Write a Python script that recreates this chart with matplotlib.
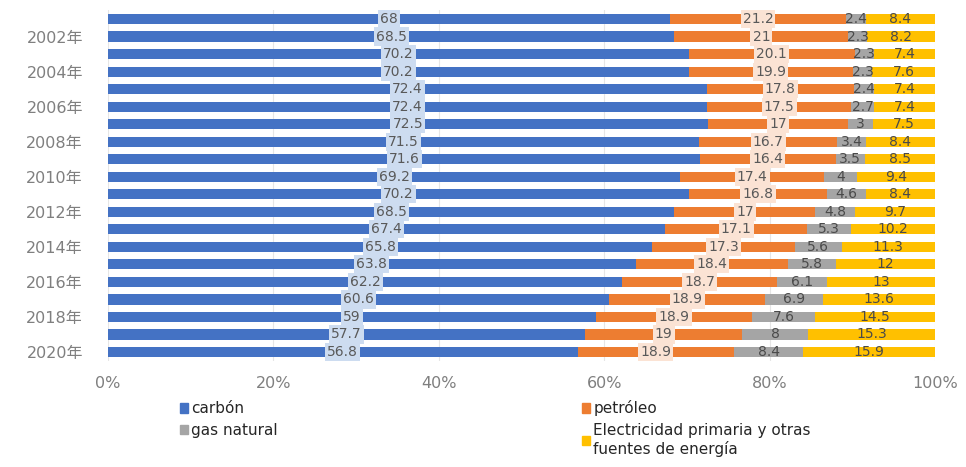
import numpy as np
import matplotlib.pyplot as plt
from matplotlib.patches import Patch

years = list(range(2001, 2021))
carbon = [68, 68.5, 70.2, 70.2, 72.4, 72.4, 72.5, 71.5, 71.6, 69.2,
          70.2, 68.5, 67.4, 65.8, 63.8, 62.2, 60.6, 59, 57.7, 56.8]
petroleo = [21.2, 21, 20.1, 19.9, 17.8, 17.5, 17, 16.7, 16.4, 17.4,
            16.8, 17, 17.1, 17.3, 18.4, 18.7, 18.9, 18.9, 19, 18.9]
gas = [2.4, 2.3, 2.3, 2.3, 2.4, 2.7, 3, 3.4, 3.5, 4,
       4.6, 4.8, 5.3, 5.6, 5.8, 6.1, 6.9, 7.6, 8, 8.4]
electricidad = [8.4, 8.2, 7.4, 7.6, 7.4, 7.4, 7.5, 8.4, 8.5, 9.4,
                8.4, 9.7, 10.2, 11.3, 12, 13, 13.6, 14.5, 15.3, 15.9]

series = [
    ("carbón", carbon, "#4472C4", "#cddcf0"),
    ("petróleo", petroleo, "#ED7D31", "#fbe3d4"),
    ("gas natural", gas, "#A5A5A5", None),
    ("Electricidad primaria y otras\nfuentes de energía", electricidad, "#FFC000", None),
]

data = np.array([s[1] for s in series], dtype=float)
pct = data / data.sum(axis=0) * 100

fig = plt.figure(figsize=(9.66, 4.67), dpi=100)
ax = fig.add_axes([0.1118, 0.2275, 0.8561, 0.7505])

y = np.arange(len(years))
left = np.zeros(len(years))
for (name, vals, color, boxc), p in zip(series, pct):
    ax.barh(y, p, left=left, height=0.58, color=color, zorder=2)
    for yi, (l, w, v) in enumerate(zip(left, p, vals)):
        bbox = None
        if boxc is not None:
            bbox = dict(boxstyle="square,pad=0.15", fc=boxc, ec="none")
        ax.text(l + w / 2, yi, f"{v:g}", ha="center", va="center",
                fontsize=10, color="#595959" if boxc else "#4a4a4a",
                bbox=bbox, zorder=3)
    left += p

ax.set_xlim(0, 100)
ax.set_ylim(len(years) - 0.5, -0.5)
ax.set_xticks(np.arange(0, 101, 20))
ax.set_xticklabels([f"{t}%" for t in range(0, 101, 20)])
ax.set_yticks(y)
ax.set_yticklabels([f"{yr}年" if yr % 2 == 0 else "" for yr in years],
                   family=["DejaVu Sans", "Noto Sans CJK SC"])
ax.tick_params(length=0, labelsize=11.5, labelcolor="#7f7f7f")
ax.tick_params(axis="y", pad=18)
ax.tick_params(axis="x", pad=11)
ax.grid(axis="x", color="#e6e6e6", lw=0.8, zorder=0)
for sp in ax.spines.values():
    sp.set_visible(False)

handles = [Patch(color=s[2], label=s[0]) for s in series]
order = [0, 2, 1, 3]
fig.legend([handles[i] for i in order], [series[i][0] for i in order],
           ncol=2, loc="upper left", bbox_to_anchor=(0.172, 0.172),
           frameon=False, handlelength=0.55, handleheight=0.55,
           handletextpad=0.2, columnspacing=19.9, labelspacing=0.45,
           labelcolor="#262626",
           prop={"family": ["Liberation Sans Narrow", "DejaVu Sans"], "size": 11})

fig.savefig("out.png", dpi=100)
